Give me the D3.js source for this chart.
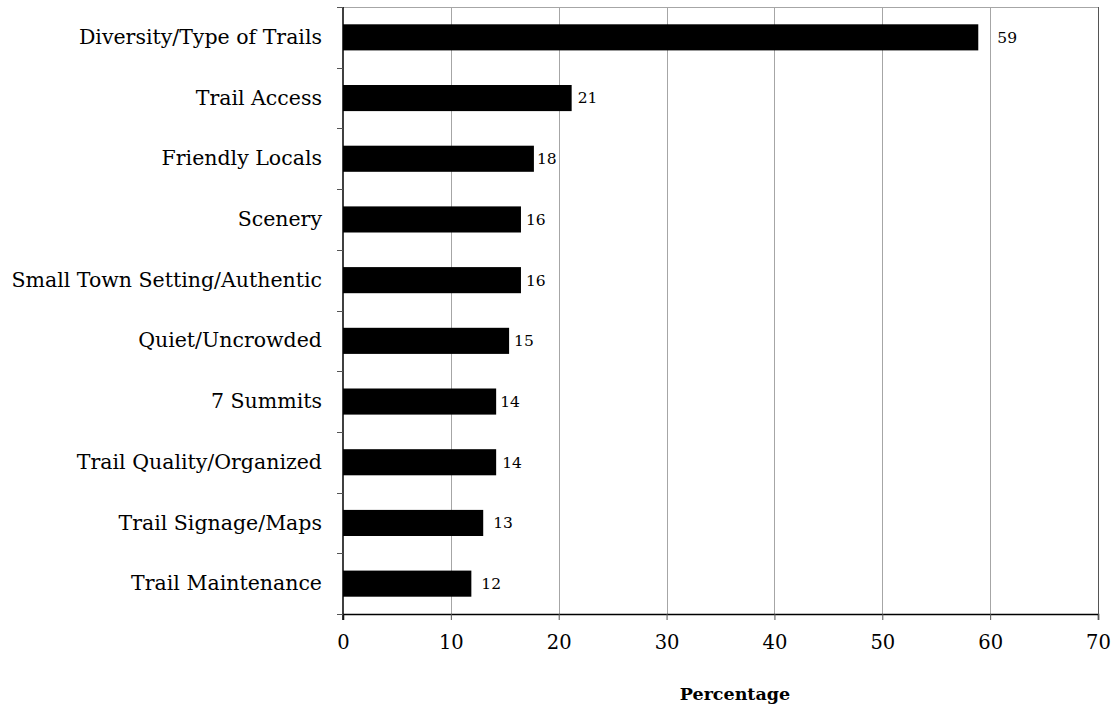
<!DOCTYPE html>
<html>
<head>
<meta charset="utf-8">
<script src="https://cdn.jsdelivr.net/npm/d3@7"></script>
<style>
  html, body { margin: 0; padding: 0; background: #fff; }
  svg { display: block; }
  text { font-family: "DejaVu Serif", "Liberation Serif", serif; fill: #000; }
</style>
</head>
<body>
<svg id="chart" width="1115" height="708"></svg>
<script>
const categories = [
  "Diversity/Type of Trails",
  "Trail Access",
  "Friendly Locals",
  "Scenery",
  "Small Town Setting/Authentic",
  "Quiet/Uncrowded",
  "7 Summits",
  "Trail Quality/Organized",
  "Trail Signage/Maps",
  "Trail Maintenance"
];
const values = [58.9, 21.2, 17.7, 16.5, 16.5, 15.4, 14.2, 14.2, 13.0, 11.9];
const valueLabels = ["59", "21", "18", "16", "16", "15", "14", "14", "13", "12"];
const xTicks = [0, 10, 20, 30, 40, 50, 60, 70];
const xTitle = "Percentage";

// layout
const plotLeft = 343, plotRight = 1098, plotTop = 7, plotBottom = 614;
const labelNudge = [19, 6, 3, 5, 5, 5, 4, 6, 10, 10];

const svg = d3.select("#chart");
const x = d3.scaleLinear().domain([0, 70]).range([plotLeft, plotRight]);
const y = d3.scaleBand().domain(categories).range([plotTop, plotBottom]).paddingInner(0.57).paddingOuter(0.285);
const band = d3.scaleBand().domain(categories).range([plotTop, plotBottom]);

// gridlines
svg.append("g").selectAll("line").data(xTicks.slice(1))
  .join("line")
  .attr("x1", d => Math.round(x(d)) + 0.5).attr("x2", d => Math.round(x(d)) + 0.5)
  .attr("y1", plotTop).attr("y2", plotBottom)
  .attr("stroke", "#a6a6a6").attr("stroke-width", 1);
// top border
svg.append("line").attr("x1", plotLeft).attr("x2", plotRight + 0.5)
  .attr("y1", plotTop + 0.5).attr("y2", plotTop + 0.5)
  .attr("stroke", "#a6a6a6").attr("stroke-width", 1);

// bars
svg.append("g").selectAll("rect").data(categories)
  .join("rect")
  .attr("x", x(0))
  .attr("y", d => y(d))
  .attr("width", (d, i) => x(values[i]) - x(0))
  .attr("height", y.bandwidth())
  .attr("fill", "#000");

// value labels
svg.append("g").selectAll("text").data(categories)
  .join("text")
  .attr("x", (d, i) => x(values[i]) + labelNudge[i])
  .attr("y", d => y(d) + y.bandwidth() / 2)
  .attr("dy", "0.35em")
  .style("font-size", "15.5px")
  .text((d, i) => valueLabels[i]);

// bottom axis
const xAxis = d3.axisBottom(x).tickValues(xTicks).tickSize(6).tickPadding(15).tickFormat(d3.format("d"));
const gx = svg.append("g").attr("transform", `translate(0,${plotBottom})`).call(xAxis);
gx.select(".domain").attr("stroke", "#000").attr("stroke-width", 1.5);
gx.selectAll(".tick line").attr("stroke", "#555");
gx.selectAll(".tick text").style("font-size", "19.5px").style("font-family", "DejaVu Serif, serif");

// left axis
const yAxis = d3.axisLeft(y).tickSize(0).tickPadding(21);
const gy = svg.append("g").attr("transform", `translate(${plotLeft},0)`).call(yAxis);
gy.select(".domain").remove();
gy.selectAll(".tick text").style("font-size", "20.5px").style("font-family", "DejaVu Serif, serif");
svg.append("line").attr("x1", plotLeft).attr("x2", plotLeft).attr("y1", plotTop).attr("y2", plotBottom + 6)
  .attr("stroke", "#000").attr("stroke-width", 1.5);
// band boundary ticks
const boundaries = categories.map(c => band(c)).concat([plotBottom]);
svg.append("g").selectAll("line").data(boundaries)
  .join("line")
  .attr("x1", plotLeft - 6).attr("x2", plotLeft)
  .attr("y1", d => Math.round(d) + 0.5).attr("y2", d => Math.round(d) + 0.5)
  .attr("stroke", "#555");

// right border
svg.append("line").attr("x1", plotRight + 0.5).attr("x2", plotRight + 0.5).attr("y1", plotTop).attr("y2", plotBottom)
  .attr("stroke", "#555").attr("stroke-width", 1);

// x title
svg.append("text").attr("x", 735).attr("y", 700)
  .attr("text-anchor", "middle")
  .style("font-size", "17.5px").style("font-weight", "bold")
  .text(xTitle);
</script>
</body>
</html>
